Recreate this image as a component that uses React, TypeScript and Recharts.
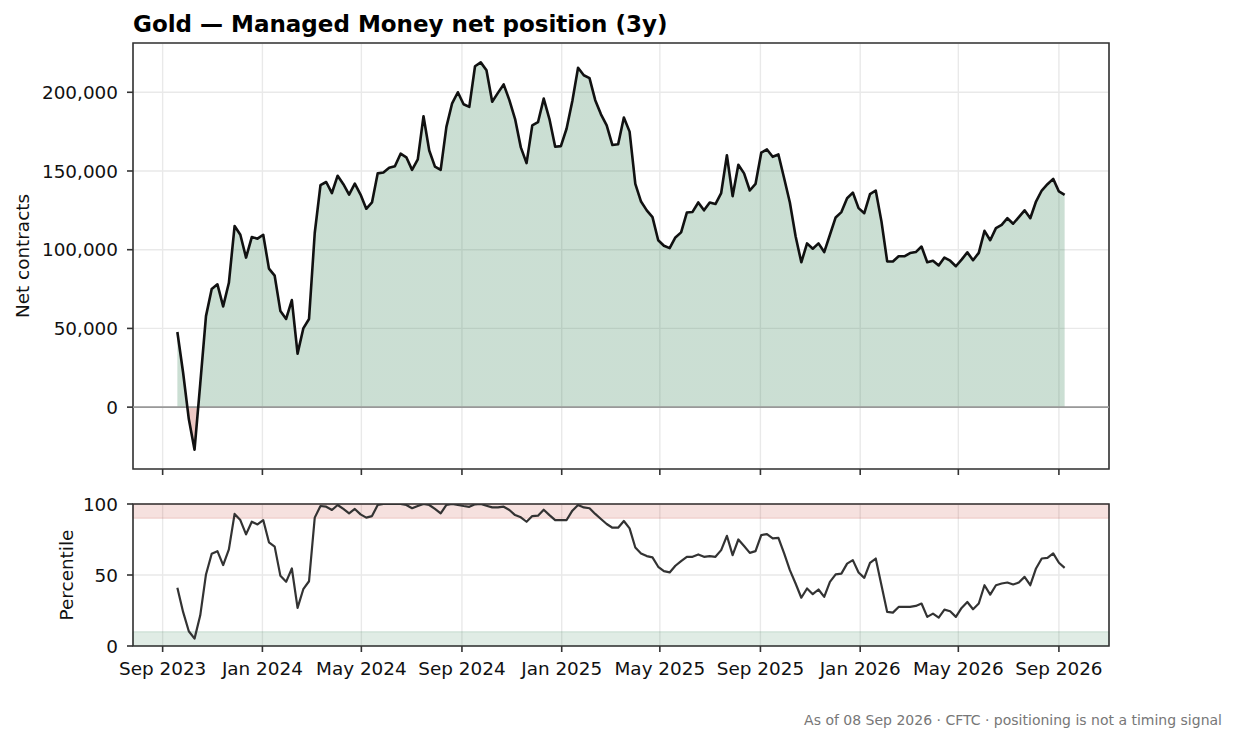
import React from 'react';
import {
  ComposedChart,
  Area,
  Line,
  XAxis,
  YAxis,
  CartesianGrid,
  ReferenceLine,
  ReferenceArea,
} from 'recharts';

// weekly CFTC reports (Tuesdays), first one in the window
const FIRST_REPORT = '2023-09-19';

// managed money net position, thousands of contracts
const NET_K = [
  47.7, 22, -7.6, -27, 15, 57.8, 75, 78, 64, 79,
  115, 109.5, 95, 108, 107, 109.5, 88, 83.5, 61, 56,
  68, 34, 50, 56, 110.6, 141, 143, 136, 147, 141.6,
  135, 142, 135, 126, 130, 148.5, 149, 152, 153, 161,
  158.7, 150.7, 157.4, 184.8, 163, 152.8, 150.7, 178, 193, 200,
  192.4, 190.7, 216.5, 219, 214, 194, 199.6, 205, 195, 183,
  165, 155, 179, 181, 196, 183, 165.4, 165.8, 177, 194.5,
  215.6, 210.8, 209, 195, 186, 179, 166.5, 167, 184, 175,
  141.8, 130.6, 125, 120.7, 106, 102.5, 101, 107.8, 111, 123.6,
  124, 130, 125, 130, 129, 136, 160, 134, 154, 148.5,
  137.6, 141.8, 161.6, 163.7, 159, 160.5, 145.4, 130, 108.5, 92,
  104, 100.6, 104, 98.5, 109.5, 120.5, 123.9, 132.7, 136.3, 126.4,
  123.2, 135.3, 137.6, 118, 92.6, 92.5, 95.8, 95.8, 97.9, 98.5,
  102, 92, 93, 90, 95, 93, 89.5, 93.7, 98.3, 93.3,
  98, 112, 106, 113.7, 115.8, 120, 116.5, 120.7, 125, 120,
  130.6, 137.6, 141.6, 145, 137, 134.8,
];

// 3y percentile of the net position
const PERCENTILE = [
  41, 24, 10.4, 5.2, 21.6, 50.4, 65, 66.8, 57, 68,
  93, 88.7, 78.6, 87.5, 85.6, 88.7, 73, 70, 49.4, 45.2,
  54.6, 26.8, 40, 45.6, 90.4, 98.6, 98.1, 95.8, 99.3, 96.5,
  93.4, 96.5, 92.7, 90.4, 91.5, 99.3, 100, 100, 100, 100,
  99.3, 97, 98.6, 100, 99.3, 96.5, 93.4, 99.3, 100, 99.3,
  98.6, 98, 99.8, 100, 98.8, 97.6, 97.6, 98.1, 95.8, 92.2,
  90.6, 87.5, 91.5, 91.8, 96, 92.2, 88.7, 88.7, 88.7, 95.3,
  99.3, 97.6, 97, 93, 89.4, 85.9, 83.3, 83.3, 88, 82.8,
  69.4, 65.2, 63.3, 62.4, 55.8, 52.7, 51.8, 56.5, 59.8, 62.8,
  62.8, 64.5, 62.8, 63.3, 62.8, 67.5, 77.6, 64, 75, 70.4,
  65.6, 66.8, 78.1, 78.8, 75.8, 76.2, 65.2, 53.4, 44, 34,
  40.5, 36.5, 39.8, 34.6, 45.2, 50.4, 51, 58, 60.5, 51.8,
  48, 58.6, 61.6, 42.8, 24, 23.5, 27.5, 27.5, 27.5, 28.2,
  29.9, 20.5, 22.8, 20, 25.6, 24.5, 20.5, 26.8, 31, 25.9,
  29.9, 42.8, 36.2, 42.8, 44, 44.7, 43.3, 44.7, 48.7, 42.8,
  54.6, 61.6, 62.1, 65.2, 58.6, 55,
];

const X_TICK_DATES = [
  '2023-09-01', '2024-01-01', '2024-05-01', '2024-09-01', '2025-01-01',
  '2025-05-01', '2025-09-01', '2026-01-01', '2026-05-01', '2026-09-01',
];
const X_TICK_LABELS = [
  'Sep 2023', 'Jan 2024', 'May 2024', 'Sep 2024', 'Jan 2025',
  'May 2025', 'Sep 2025', 'Jan 2026', 'May 2026', 'Sep 2026',
];
const NET_TICKS = [0, 50000, 100000, 150000, 200000];
const PCT_TICKS = [0, 50, 100];

const TITLE = 'Gold \u2014 Managed Money net position (3y)';
const FOOTNOTE = 'As of 08 Sep 2026 \u00b7 CFTC \u00b7 positioning is not a timing signal';

const WEEK = 7 * 24 * 3600 * 1000;
const start = Date.parse(FIRST_REPORT);
const data = NET_K.map((v, i) => ({
  t: start + i * WEEK,
  net: v * 1000,
  pct: PERCENTILE[i],
}));
const xTicks = X_TICK_DATES.map((d) => Date.parse(d));

// matplotlib style 5% margins
const tFirst = data[0].t;
const tLast = data[data.length - 1].t;
const xPad = (tLast - tFirst) * 0.05;
const xDomain = [tFirst - xPad, tLast + xPad];
const netMin = Math.min(...data.map((d) => d.net));
const netMax = Math.max(...data.map((d) => d.net));
const yPad = (netMax - netMin) * 0.05;
const yDomain = [netMin - yPad, netMax + yPad];
const zeroOffset = netMax / (netMax - Math.min(netMin, 0));

const FONT = '"DejaVu Sans", sans-serif';
const GREEN = '#2e7d4f';
const RED = '#c0392b';
const tickStyle = { fontSize: 18.4, fill: '#111', fontFamily: FONT };

const yLabel = (text: string, x: number) => (props: any) => {
  const vb = props.viewBox || {};
  const cy = vb.y + vb.height / 2;
  return (
    <text
      x={x}
      y={cy}
      transform={`rotate(-90 ${x} ${cy})`}
      textAnchor="middle"
      fontSize={18.4}
      fontFamily={FONT}
      fill="#111"
    >
      {text}
    </text>
  );
};

const fmtLabel = (v: number) => {
  const i = xTicks.indexOf(v);
  return i >= 0 ? X_TICK_LABELS[i] : '';
};

export default function App() {
  return (
    <div style={{ position: 'absolute', left: 0, top: 0, width: 1236, height: 742, background: '#fff' }}>
      <svg width={1236} height={742} style={{ position: 'absolute', left: 0, top: 0 }}>
        <text x={133} y={31.5} fontSize={23} fontWeight="bold" fontFamily={FONT} fill="#000">
          {TITLE}
        </text>
        <text x={1222} y={725} fontSize={14} fontFamily={FONT} fill="#777" textAnchor="end">
          {FOOTNOTE}
        </text>
      </svg>

      <div style={{ position: 'absolute', left: 0, top: 0 }}>
        <ComposedChart width={1236} height={479} data={data} margin={{ top: 43, right: 127, left: 0, bottom: 0 }}>
          <defs>
            <linearGradient id="netFill" x1="0" y1="0" x2="0" y2="1">
              <stop offset={0} stopColor={GREEN} stopOpacity={0.25} />
              <stop offset={zeroOffset} stopColor={GREEN} stopOpacity={0.25} />
              <stop offset={zeroOffset} stopColor={RED} stopOpacity={0.28} />
              <stop offset={1} stopColor={RED} stopOpacity={0.28} />
            </linearGradient>
          </defs>
          <CartesianGrid stroke="#e9e9e9" strokeWidth={1.4} />
          <XAxis
            dataKey="t"
            type="number"
            domain={xDomain}
            ticks={xTicks}
            allowDataOverflow
            tickFormatter={() => ''}
            tickSize={6}
            axisLine={false}
            tickLine={{ stroke: '#333', strokeWidth: 1.6 }}
            height={10}
            interval={0}
          />
          <YAxis
            type="number"
            domain={yDomain}
            ticks={NET_TICKS}
            allowDataOverflow
            width={133}
            tickSize={6}
            tickMargin={9}
            axisLine={false}
            tickLine={{ stroke: '#333', strokeWidth: 1.6 }}
            tick={tickStyle}
            tickFormatter={(v: number) => v.toLocaleString('en-US')}
            interval={0}
            label={{ content: yLabel('Net contracts', 29) }}
          />
          <Area
            dataKey="net"
            type="linear"
            baseValue={0}
            fill="url(#netFill)"
            fillOpacity={1}
            stroke="none"
            isAnimationActive={false}
          />
          <ReferenceLine y={0} stroke="#999" strokeWidth={1.6} />
          <Line
            dataKey="net"
            type="linear"
            stroke="#111"
            strokeWidth={2.6}
            strokeLinejoin="round"
            dot={false}
            activeDot={false}
            isAnimationActive={false}
          />
          <ReferenceArea
            x1={xDomain[0]}
            x2={xDomain[1]}
            y1={yDomain[0]}
            y2={yDomain[1]}
            fill="none"
            stroke="#333"
            strokeWidth={1.6}
            ifOverflow="visible"
          />
        </ComposedChart>
      </div>

      <div style={{ position: 'absolute', left: 0, top: 480 }}>
        <ComposedChart width={1236} height={262} data={data} margin={{ top: 24, right: 127, left: 0, bottom: 56 }}>
          <CartesianGrid stroke="#e9e9e9" strokeWidth={1.4} />
          <XAxis
            dataKey="t"
            type="number"
            domain={xDomain}
            ticks={xTicks}
            allowDataOverflow
            tickFormatter={fmtLabel}
            tickSize={6}
            tickMargin={10}
            axisLine={false}
            tickLine={{ stroke: '#333', strokeWidth: 1.6 }}
            tick={tickStyle}
            height={40}
            interval={0}
          />
          <YAxis
            type="number"
            domain={[0, 100]}
            ticks={PCT_TICKS}
            allowDataOverflow
            width={133}
            tickSize={6}
            tickMargin={9}
            axisLine={false}
            tickLine={{ stroke: '#333', strokeWidth: 1.6 }}
            tick={tickStyle}
            interval={0}
            label={{ content: yLabel('Percentile', 72.5) }}
          />
          <ReferenceArea
            x1={xDomain[0]}
            x2={xDomain[1]}
            y1={90}
            y2={100}
            fill={RED}
            fillOpacity={0.15}
            stroke={RED}
            strokeOpacity={0.2}
            ifOverflow="visible"
          />
          <ReferenceArea
            x1={xDomain[0]}
            x2={xDomain[1]}
            y1={0}
            y2={10}
            fill={GREEN}
            fillOpacity={0.15}
            stroke={GREEN}
            strokeOpacity={0.2}
            ifOverflow="visible"
          />
          <Line
            dataKey="pct"
            type="linear"
            stroke="#333"
            strokeWidth={2.2}
            strokeLinejoin="round"
            dot={false}
            activeDot={false}
            isAnimationActive={false}
          />
          <ReferenceArea
            x1={xDomain[0]}
            x2={xDomain[1]}
            y1={0}
            y2={100}
            fill="none"
            stroke="#333"
            strokeWidth={1.6}
            ifOverflow="visible"
          />
        </ComposedChart>
      </div>
    </div>
  );
}
